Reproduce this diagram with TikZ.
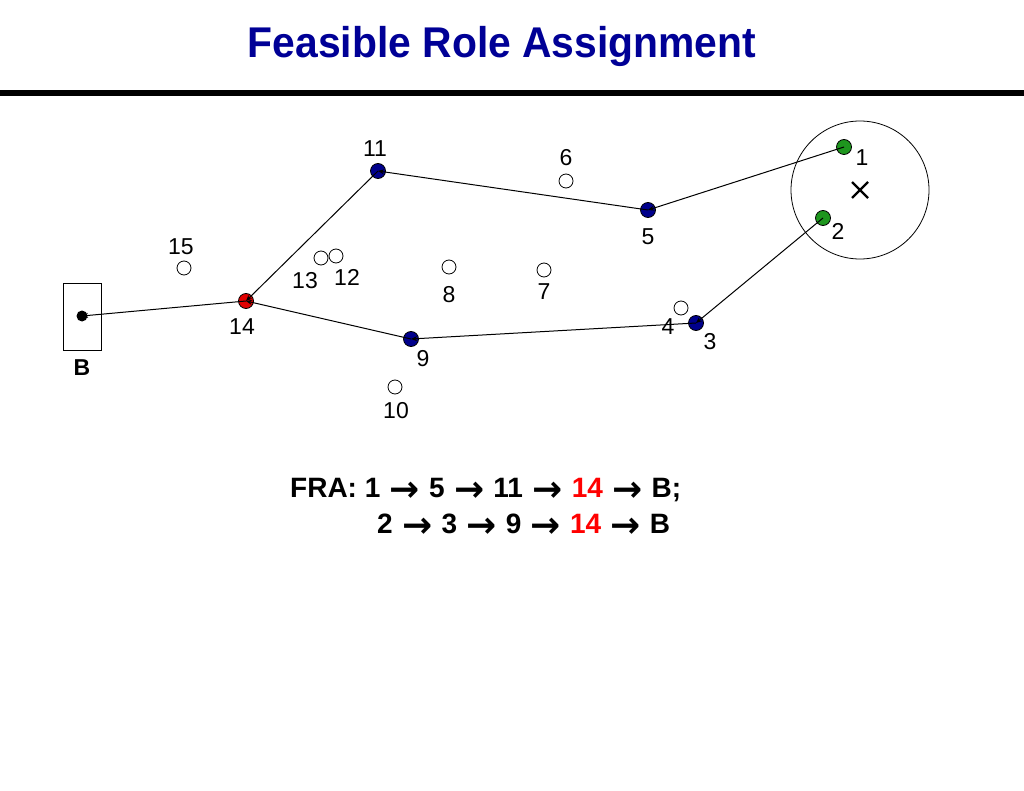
\documentclass[tikz,border=0pt]{standalone}
\usepackage{fontspec}
\setmainfont{Liberation Sans}
\newfontfamily\titlefont[FakeStretch=0.95]{Liberation Sans}
\newfontfamily\arrfont{DejaVu Sans}
\usetikzlibrary{arrows.meta}
\definecolor{titleblue}{RGB}{0,0,150}
\definecolor{nodeblue}{RGB}{0,0,140}
\definecolor{nodegreen}{RGB}{30,150,30}
\definecolor{nodered}{RGB}{225,0,0}
\newcommand{\ar}{\hspace{1.5pt}\raisebox{-4.5pt}{\arrfont\bfseries\fontsize{36}{36}\selectfont →}\hspace{1.5pt}}
\tikzset{
  sensor/.style={circle,draw=black,line width=0.8pt,inner sep=0pt,minimum size=15pt},
  idle/.style={sensor,fill=white,minimum size=14pt},
  blue node/.style={sensor,fill=nodeblue},
  green node/.style={sensor,fill=nodegreen},
  red node/.style={sensor,fill=nodered},
  lbl/.style={font=\fontsize{23}{26}\selectfont,inner sep=0pt},
  link/.style={line width=1pt,-{Stealth[length=6pt,width=5pt]}},
  fra/.style={anchor=base west,inner sep=0pt,font=\bfseries\fontsize{28}{34}\selectfont},
}
\begin{document}
\begin{tikzpicture}[x=1pt,y=-1pt]
\useasboundingbox (0,0) rectangle (1024,791);
% title
\node[anchor=base,text=titleblue,font=\titlefont\bfseries\fontsize{43}{46}\selectfont,inner sep=0pt] (title) at (502,58) {Feasible Role Assignment};
\draw[line width=6pt] (0,93.5) -- (1024,93.5);
% base station box
\node[draw=black,line width=0.8pt,minimum width=38pt,minimum height=67pt,inner sep=0pt] (Bbox) at (82,316.5) {};
\node[circle,fill=black,inner sep=0pt,minimum size=11pt] (B) at (82,316) {};
\node[lbl,font=\bfseries\fontsize{23}{26}\selectfont] (Blbl) at (82,368) {B};
% target circle
\node[circle,draw=black,line width=0.8pt,minimum size=138pt,inner sep=0pt] (area) at (860,190) {};
\draw[line width=2.2pt] (852,182) -- (868,198) (852,198) -- (868,182);
% idle sensors
\node[idle] (n6) at (566,181) {};
\node[idle] (n13) at (321,258) {};
\node[idle] (n12) at (336,256) {};
\node[idle] (n8) at (449,267) {};
\node[idle] (n7) at (544,270) {};
\node[idle] (n4) at (681,308) {};
\node[idle] (n15) at (184,268) {};
\node[idle] (n10) at (395,387) {};
% active sensors
\node[green node] (n1) at (844,147) {};
\node[green node] (n2) at (823,218) {};
\node[blue node] (n5) at (648,210) {};
\node[blue node] (n11) at (378,171) {};
\node[blue node] (n9) at (411,339) {};
\node[blue node] (n3) at (696,323) {};
\node[red node] (n14) at (246,301) {};
% links
\draw[link] (n1.center) -- (n5.center);
\draw[link] (n5.center) -- (n11.center);
\draw[link] (n11.center) -- (n14.center);
\draw[link] (n14.center) -- (B.center);
\draw[link] (n2.center) -- (n3.center);
\draw[link] (n3.center) -- (n9.center);
\draw[link] (n9.center) -- (n14.center);
% labels
\node[lbl] (l11) at (375,149) {11};
\node[lbl] (l6) at (566,158) {6};
\node[lbl] (l1) at (862,158) {1};
\node[lbl] (l5) at (648,237) {5};
\node[lbl] (l2) at (838,231) {2};
\node[lbl] (l15) at (181,247) {15};
\node[lbl] (l13) at (305,281) {13};
\node[lbl] (l12) at (347,277) {12};
\node[lbl] (l8) at (449,295) {8};
\node[lbl] (l7) at (544,292) {7};
\node[lbl] (l14) at (242,327) {14};
\node[lbl] (l4) at (668,327) {4};
\node[lbl] (l3) at (710,342) {3};
\node[lbl] (l9) at (423,359) {9};
\node[lbl] (l10) at (396,411) {10};
% FRA text
\node[fra] (fra1) at (290,497) {FRA: 1 \ar{} 5 \ar{} 11 \ar{} \textcolor{red}{14} \ar{} B;};
\node[fra] (fra2) at (377,533) {2 \ar{} 3 \ar{} 9 \ar{} \textcolor{red}{14} \ar{} B};
\end{tikzpicture}
\end{document}
